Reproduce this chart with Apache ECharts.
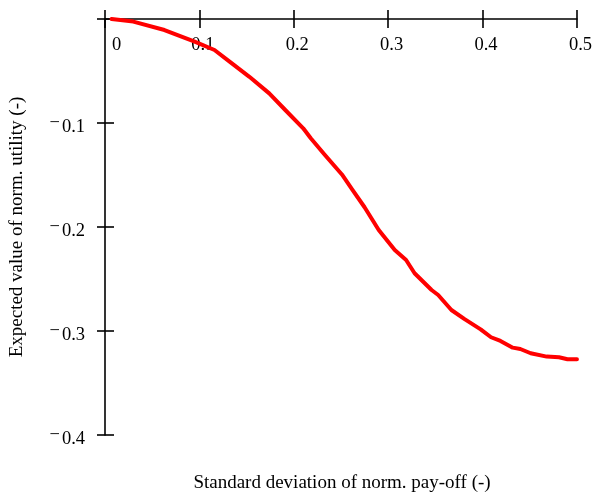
<!DOCTYPE html>
<html>
<head>
<meta charset="utf-8">
<script src="https://cdn.jsdelivr.net/npm/echarts@6/dist/echarts.min.js"></script>
<style>html,body{margin:0;padding:0;background:#fff}#c{width:595px;height:503px}</style>
</head>
<body>
<div id="c"></div>
<script>
const xTickValues = [0, 0.1, 0.2, 0.3, 0.4, 0.5];
const yTickValues = [0, -0.1, -0.2, -0.3, -0.4];
const sdValues = [0.007, 0.03, 0.063, 0.095, 0.116, 0.132, 0.153, 0.174, 0.191, 0.21, 0.218, 0.233, 0.251, 0.262, 0.275, 0.29, 0.307, 0.319, 0.328, 0.346, 0.353, 0.367, 0.381, 0.398, 0.409, 0.419, 0.432, 0.44, 0.451, 0.468, 0.481, 0.49, 0.5];
const utilValues = [0, -0.0025, -0.0106, -0.0218, -0.0298, -0.041, -0.0556, -0.0715, -0.0875, -0.1051, -0.1147, -0.1308, -0.1495, -0.164, -0.181, -0.2029, -0.2221, -0.2317, -0.2445, -0.2606, -0.2654, -0.2798, -0.2886, -0.2984, -0.306, -0.3096, -0.316, -0.3173, -0.3214, -0.3246, -0.3253, -0.3272, -0.3272];
const xName = 'Standard deviation of norm. pay-off (-)';
const yName = 'Expected value of norm. utility (-)';

const FONT = "'Liberation Serif', 'DejaVu Serif', serif";
const chart = echarts.init(document.getElementById('c'), null, {renderer: 'canvas'});
const data = sdValues.map((x, i) => [x, utilValues[i]]);

const xBase = {
  type: 'value', position: 'top', min: 0, max: 0.5, interval: 0.1,
  splitLine: {show: false}
};
const yBase = {
  type: 'value', position: 'left', min: -0.4, max: 0, interval: 0.1,
  splitLine: {show: false}
};

chart.setOption({
  animation: false,
  backgroundColor: '#fff',
  grid: {left: 105, right: 15, top: 19, bottom: 68},
  xAxis: [
    Object.assign({}, xBase, {
      axisLine: {show: true, lineStyle: {color: '#000', width: 1.6}},
      axisTick: {show: true, inside: false, length: 9, lineStyle: {color: '#000', width: 1.6}},
      axisLabel: {
        show: true, inside: true, margin: 17,
        fontFamily: FONT, fontSize: 18.5, color: '#000',
        formatter: function (v) {
          if (Math.abs(v) < 1e-9) return '{z|0}';
          return '{n|' + (+v.toFixed(1)) + '}';
        },
        rich: {
          z: {fontFamily: FONT, fontSize: 18.5, color: '#000', padding: [0, 0, 0, 23]},
          n: {fontFamily: FONT, fontSize: 18.5, color: '#000', padding: [0, 0, 0, 7]}
        }
      }
    }),
    Object.assign({}, xBase, {
      axisLine: {show: false},
      axisTick: {show: true, inside: true, length: 9, lineStyle: {color: '#000', width: 1.6}},
      axisLabel: {show: false}
    })
  ],
  yAxis: [
    Object.assign({}, yBase, {
      name: yName, nameLocation: 'middle', nameGap: 78, nameRotate: 90,
      nameTextStyle: {fontFamily: FONT, fontSize: 19, color: '#000'},
      axisLine: {show: true, lineStyle: {color: '#000', width: 1.6}},
      axisTick: {show: true, inside: false, length: 8, lineStyle: {color: '#000', width: 1.6}},
      axisLabel: {
        show: true, margin: 20, padding: [8, 0, 0, 0],
        fontFamily: FONT, fontSize: 18.5, color: '#000',
        formatter: function (v) {
          if (Math.abs(v) < 1e-9) return '';
          return '{m|\u2212}{n|' + Math.abs(v).toFixed(1) + '}';
        },
        rich: {
          m: {fontFamily: FONT, fontSize: 18.5, color: '#000', padding: [0, 2, 8, 0]},
          n: {fontFamily: FONT, fontSize: 18.5, color: '#000'}
        }
      }
    }),
    Object.assign({}, yBase, {
      axisLine: {show: false},
      axisTick: {show: true, inside: true, length: 9, lineStyle: {color: '#000', width: 1.6}},
      axisLabel: {show: false}
    })
  ],
  graphic: [{
    type: 'text', x: 342, y: 483,
    style: {text: xName, font: '19px ' + FONT, fill: '#000', textAlign: 'center', textVerticalAlign: 'middle'}
  }],
  series: [{
    type: 'line', xAxisIndex: 0, yAxisIndex: 0, data: data,
    showSymbol: false, smooth: false,
    lineStyle: {color: '#ff0000', width: 4, cap: 'round', join: 'round'},
    z: 1
  }]
});
</script>
</body>
</html>
